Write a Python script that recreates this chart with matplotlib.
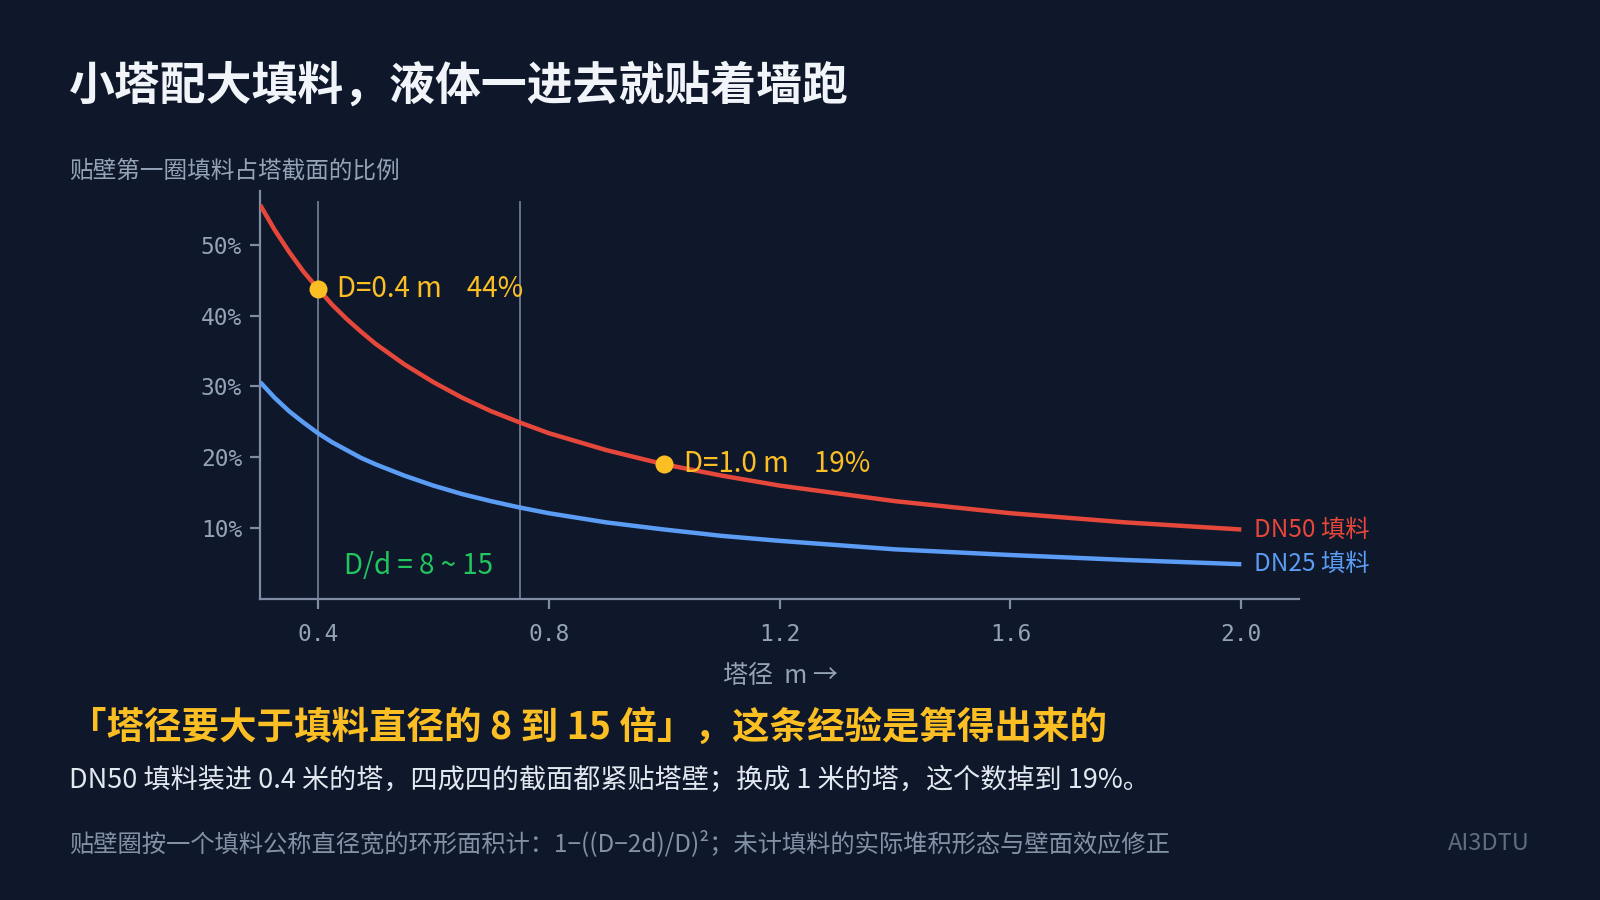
import matplotlib
matplotlib.use("Agg")
import matplotlib.pyplot as plt

# ---- data ----
diameter_m = [0.3, 0.325, 0.35, 0.375, 0.4, 0.425, 0.45, 0.475, 0.5, 0.55, 0.6, 0.65,
              0.7, 0.75, 0.8, 0.9, 1.0, 1.1, 1.2, 1.4, 1.6, 1.8, 2.0]
dn50_share = [0.556, 0.521, 0.490, 0.462, 0.438, 0.415, 0.395, 0.377, 0.360, 0.331,
              0.306, 0.284, 0.265, 0.249, 0.234, 0.210, 0.190, 0.174, 0.160, 0.138,
              0.121, 0.108, 0.098]
dn25_share = [0.306, 0.284, 0.265, 0.249, 0.234, 0.221, 0.210, 0.199, 0.190, 0.174,
              0.160, 0.148, 0.138, 0.129, 0.121, 0.108, 0.098, 0.089, 0.082, 0.070,
              0.062, 0.055, 0.049]
series_labels = ["DN50 填料", "DN25 填料"]
highlight_D = [0.4, 1.0]
highlight_val = [0.4375, 0.19]
highlight_text = ["D=0.4 m    44%", "D=1.0 m    19%"]
band_lines = [0.4, 0.75]
band_label = "D/d = 8 ~ 15"
x_ticks = [0.4, 0.8, 1.2, 1.6, 2.0]
x_tick_labels = ["0.4", "0.8", "1.2", "1.6", "2.0"]
y_ticks = [0.1, 0.2, 0.3, 0.4, 0.5]
y_tick_labels = ["10%", "20%", "30%", "40%", "50%"]

title = "小塔配大填料，液体一进去就贴着墙跑"
subtitle = "贴壁第一圈填料占塔截面的比例"
x_label = "塔径  m →"
headline = "「塔径要大于填料直径的 8 到 15 倍」，这条经验是算得出来的"
body = "DN50 填料装进 0.4 米的塔，四成四的截面都紧贴塔壁；换成 1 米的塔，这个数掉到 19%。"
footnote = "贴壁圈按一个填料公称直径宽的环形面积计：1−((D−2d)/D)²；未计填料的实际堆积形态与壁面效应修正"
brand = "AI3DTU"

# ---- style ----
BG = "#0f172a"
AXIS = "#7f8ca3"
GRAY = "#94a3b8"
RED = "#e5483b"
BLUE = "#5b9cf5"
YELLOW = "#fbbf24"
GREEN = "#22c55e"
WHITE = "#f1f5f9"
CJK = ["Noto Sans CJK SC", "DejaVu Sans"]
MONO = ["DejaVu Sans Mono"]

plt.rcParams["font.family"] = CJK

fig = plt.figure(figsize=(16, 9), dpi=100, facecolor=BG)
ax = fig.add_axes([0.1626, 0.3345, 0.8119 - 0.1626, 0.788 - 0.3345])
ax.set_facecolor(BG)

ax.set_xlim(0.3, 2.1)
ax.set_ylim(0.0, 0.576)

for s in ["top", "right"]:
    ax.spines[s].set_visible(False)
for s in ["left", "bottom"]:
    ax.spines[s].set_color(AXIS)
    ax.spines[s].set_linewidth(1.6)

ax.vlines(band_lines, 0, 0.562, colors=AXIS, linewidth=1.1, zorder=1)

ax.plot(diameter_m, dn50_share, color=RED, linewidth=3.2, solid_capstyle="butt",
        solid_joinstyle="round", zorder=3)
ax.plot(diameter_m, dn25_share, color=BLUE, linewidth=3.2, solid_capstyle="butt",
        solid_joinstyle="round", zorder=3)

ax.annotate(series_labels[0], (diameter_m[-1], dn50_share[-1]), xytext=(9, 0),
            textcoords="offset points", va="center", ha="left", color=RED,
            fontsize=17.5, family=CJK)
ax.annotate(series_labels[1], (diameter_m[-1], dn25_share[-1]), xytext=(9, 0),
            textcoords="offset points", va="center", ha="left", color=BLUE,
            fontsize=17.5, family=CJK)

ax.plot(highlight_D, highlight_val, "o", color=YELLOW, markersize=13, zorder=5,
        markeredgewidth=0)
for xd, yv, t in zip(highlight_D, highlight_val, highlight_text):
    ax.annotate(t, (xd, yv), xytext=(14, 0), textcoords="offset points",
                va="center", ha="left", color=YELLOW, fontsize=20, family=CJK)

ax.text(sum(band_lines) / 2, 0.046, band_label, color=GREEN, fontsize=20,
        ha="center", va="center", family=CJK)

ax.set_xticks(x_ticks)
ax.set_xticklabels(x_tick_labels, family=MONO, fontsize=16.5, color=GRAY)
ax.set_yticks(y_ticks)
ax.set_yticklabels(y_tick_labels, family=MONO, fontsize=16.5, color=GRAY)
ax.tick_params(axis="both", colors=AXIS, length=7, width=1.6, labelcolor=GRAY)
ax.tick_params(axis="x", pad=10)
ax.tick_params(axis="y", pad=6)

# ---- texts ----
fig.text(0.0434, 0.9036, title, color=WHITE, fontsize=33, fontweight="bold",
         ha="left", va="center", family=CJK)
fig.text(0.0434, 0.8095, subtitle, color=GRAY, fontsize=17, ha="left",
         va="center", family=CJK)
fig.text(0.488, 0.2494, x_label, color=GRAY, fontsize=18, ha="center",
         va="center", family=CJK)
fig.text(0.0434, 0.1915, headline, color=YELLOW, fontsize=27, fontweight="bold",
         ha="left", va="center", family=CJK)
fig.text(0.0434, 0.1330, body, color="#e2e8f0", fontsize=19.5, ha="left",
         va="center", family=CJK)
fig.text(0.0434, 0.0630, footnote, color="#8391a7", fontsize=17.5, ha="left",
         va="center", family=CJK)
fig.text(0.956, 0.0630, brand, color="#5f6d82", fontsize=17, ha="right",
         va="center", family=CJK)

fig.savefig("out.png", dpi=100, facecolor=BG)
